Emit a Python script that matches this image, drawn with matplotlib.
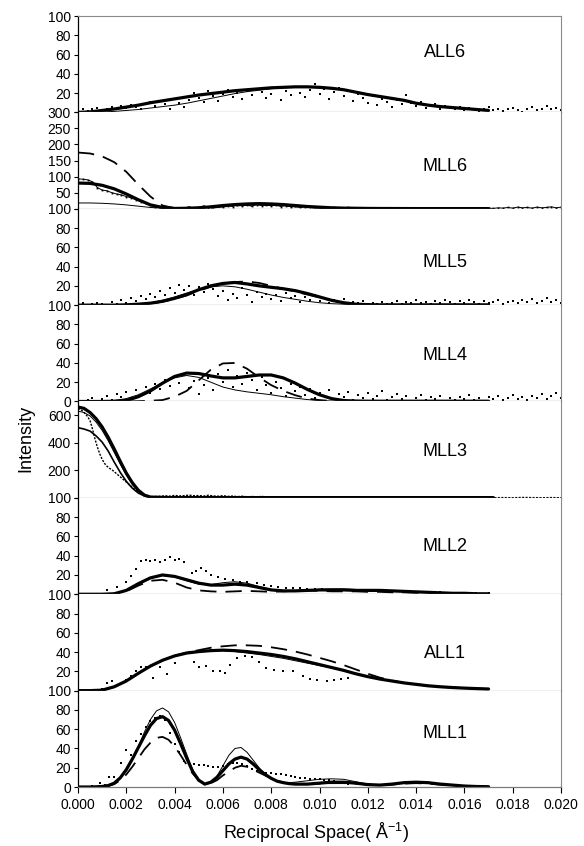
import numpy as np
import matplotlib
matplotlib.use("Agg")
import matplotlib.pyplot as plt

plt.rcParams['font.family'] = ['Liberation Sans', 'DejaVu Sans']
plt.rcParams['mathtext.default'] = 'regular'

# ---------------- data (x in 1e-3 A^-1) ----------------
xg = [0, 0.5, 1, 1.5, 2, 2.5, 3, 3.5, 4, 4.5, 5, 5.5, 6, 6.5, 7, 7.5, 8, 8.5,
      9, 9.5, 10, 10.5, 11, 11.5, 12, 12.5, 13, 13.5, 14, 14.5, 15, 15.5, 16, 16.5, 17]
xd = [0.0, 0.2, 0.4, 0.6, 0.8, 1.0, 1.2, 1.4, 1.6, 1.8, 2.0, 2.2, 2.4, 2.6, 2.8, 3.0, 3.2, 3.4,
      3.6, 3.8, 4.0, 4.2, 4.4, 4.6, 4.8, 5.0, 5.2, 5.4, 5.6, 5.8, 6.0, 6.2, 6.4, 6.6, 6.8, 7.0,
      7.2, 7.4, 7.6, 7.8, 8.0, 8.2, 8.4, 8.6, 8.8, 9.0, 9.2, 9.4, 9.6, 9.8, 10.0, 10.2, 10.4,
      10.6, 10.8, 11.0, 11.2, 11.4, 11.6, 11.8, 12.0, 12.2, 12.4, 12.6, 12.8, 13.0, 13.2, 13.4,
      13.6, 13.8, 14.0, 14.2, 14.4, 14.6, 14.8, 15.0, 15.2, 15.4, 15.6, 15.8, 16.0, 16.2, 16.4,
      16.6, 16.8, 17.0, 17.2, 17.4, 17.6, 17.8, 18.0, 18.2, 18.4, 18.6, 18.8, 19.0, 19.2, 19.4,
      19.6, 19.8, 20.0]

# ALL6
all6_thick = [0, 0.5, 2, 3.5, 5.5, 7.5, 10, 12, 14, 16, 18, 19.5, 21, 22.5, 23.5, 24.5, 25.5, 26,
              26.5, 26.5, 26, 25, 23.5, 21, 18.5, 16.5, 14.5, 12.5, 9.5, 7.5, 6, 5, 4, 3, 2]
all6_thin = [0, 0, 0.5, 1, 2, 3, 4.5, 6, 7.5, 9.5, 12, 14.5, 17, 19.5, 21.5, 23, 24.5, 25.5,
             26, 26, 25.5, 24.5, 23, 20.5, 18, 16, 14, 12, 9, 7, 5.5, 4.5, 3.5, 2.5, 1.5]
all6_data = [2, 3, 1, 4, 5, 2, 3, 6, 4, 7, 5, 8, 6, 3, 9, 11, 7, 12, 9, 4, 14, 10, 6, 13, 20, 15,
             11, 22, 17, 12, 19, 23, 16, 20, 14, 22, 18, 24, 21, 15, 19, 25, 13, 22, 18, 26, 20,
             16, 23, 29, 19, 24, 14, 21, 25, 17, 22, 12, 19, 15, 10, 17, 8, 14, 11, 6, 13, 9, 18,
             10, 7, 11, 5, 8, 9, 4, 7, 5, 3, 6, 2, 5, 4, 1, 3, 6, 2, 4, 1, 3, 5, 2, 0.5, 3, 6, 2,
             4, 7, 3, 5, 2]

# MLL6
mll6_dash = [175, 172, 163, 145, 115, 75, 38, 10, 2, 0.5, 1, 3, 7, 10, 12, 13, 12, 10, 7, 5, 3,
             2, 1, 0.5, 0.3, 0.3, 0.3, 0.3, 0.3, 0.3, 0.3, 0.3, 0.3, 0.3, 0.3]
mll6_thick = [80, 79, 73, 62, 46, 28, 12, 4, 1, 1.5, 3, 6, 10, 13, 15, 16, 15, 13, 10, 7, 5, 3,
              2, 1.5, 1, 0.8, 0.7, 0.6, 0.5, 0.5, 0.5, 0.5, 0.5, 0.5, 0.5]
mll6_thin = [18, 18, 17, 15, 12, 8, 4, 2, 1, 1.5, 2, 5, 8, 10, 12, 12.5, 12, 10, 8, 6, 4, 3, 2,
             1.5, 1, 1, 1, 1, 1, 1, 1, 1, 1, 1, 1]
mll6_data = [93, 92, 90, 84, 66, 58, 56, 50, 46, 43, 38, 34, 28, 22, 17, 11, 7, 4, 2, 1, 2, 1, 3,
             6, 2, 4, 9, 3, 5, 8, 6, 10, 7, 12, 9, 11, 8, 13, 10, 12, 9, 11, 7, 10, 6, 8, 5, 7, 4,
             6, 3, 5, 2, 4, 3, 2, 4, 1, 3, 2, 1, 3, 2, 1, 2, 1, 3, 1, 2, 1, 2, 1, 3, 1, 2, 1, 2,
             1, 3, 1, 2, 1, 2, 1, 3, 2, 1, 3, 2, 4, 2, 5, 3, 4, 2, 5, 3, 4, 6, 3, 5]

# MLL5
mll5_thick = [0, 0, 0, 0, 0.3, 1, 2, 4, 7, 11, 16, 20, 22.5, 23.5, 22, 20, 18.5, 17, 15, 12,
              8.5, 5, 2.5, 1, 0.5, 0.3, 0.3, 0.3, 0.3, 0.3, 0.3, 0.3, 0.3, 0.3, 0.3]
mll5_dash = [0, 0, 0, 0, 0, 0.5, 1.5, 3.5, 6.5, 10, 15, 19, 22, 24, 24.5, 23, 20, 17, 14, 11, 8,
             5, 2.5, 1, 0.3, 0.3, 0.3, 0.3, 0.3, 0.3, 0.3, 0.3, 0.3, 0.3, 0.3]
mll5_thin = [0, 0, 0, 0, 0, 1, 2.5, 5, 8.5, 12.5, 16, 19, 20, 19, 16.5, 13.5, 10.5, 8, 6, 4, 2.5,
             1.5, 1, 0.5, 0.5, 0.5, 0.5, 0.5, 0.5, 0.5, 0.5, 0.5, 0.5, 0.5, 0.5]
mll5_data = [1, 2, 0.5, 1, 2, 1, 0.5, 3, 1, 5, 2, 7, 4, 9, 6, 12, 8, 15, 10, 18, 13, 21, 16, 20,
             11, 19, 14, 22, 17, 9, 15, 5, 12, 7, 18, 10, 3, 14, 8, 12, 6, 10, 4, 13, 7, 9, 3, 8,
             5, 11, 4, 7, 2, 5, 3, 6, 1, 3, 2, 4, 1, 2, 1, 3, 1, 2, 4, 1, 3, 2, 5, 2, 3, 1, 4, 2,
             5, 3, 1, 4, 2, 5, 3, 1, 4, 2, 3, 5, 1, 3, 4, 2, 5, 3, 6, 2, 4, 7, 3, 5, 2]

# MLL4
mll4_thick = [0, 0, 0, 0.3, 1, 5, 11, 19, 26, 29.5, 29, 26.5, 24.5, 24.5, 26, 27.5, 27.5, 24.5,
              19, 12.5, 7, 3, 1, 0.5, 0.3, 0.3, 0.3, 0.3, 0.3, 0.3, 0.3, 0.3, 0.3, 0.3, 0.3]
mll4_thin = [0, 0, 0.3, 1, 3, 7, 13, 19.5, 24.5, 27, 25, 20, 15, 12, 10, 8.5, 7, 5, 3.5, 2, 1,
             0.5, 0.3, 0.3, 0.3, 0.3, 0.3, 0.3, 0.3, 0.3, 0.3, 0.3, 0.3, 0.3, 0.3]
mll4_dash = [0, 0, 0, 0, 0, 0.3, 0.8, 1.5, 5, 11, 22, 33, 39.5, 40, 34, 25, 17, 11, 6.5, 3, 1.5,
             0.5, 0.3, 0.3, 0.3, 0.3, 0.3, 0.3, 0.3, 0.3, 0.3, 0.3, 0.3, 0.3, 0.3]
mll4_data = [1, 0.5, 2, 4, 1, 3, 6, 2, 8, 5, 10, 4, 12, 7, 15, 9, 18, 13, 22, 16, 25, 19, 28, 14,
             21, 8, 17, 24, 12, 29, 20, 33, 15, 26, 18, 30, 22, 12, 25, 17, 9, 20, 14, 6, 18, 11,
             15, 7, 13, 4, 9, 6, 12, 3, 8, 5, 10, 2, 7, 4, 9, 3, 6, 11, 2, 5, 8, 3, 6, 1, 4, 7, 2,
             5, 3, 6, 1, 4, 2, 5, 3, 7, 2, 4, 1, 5, 3, 6, 2, 4, 7, 3, 5, 2, 6, 4, 8, 3, 6, 9, 4]

# MLL3
x3 = [0, 0.25, 0.5, 0.75, 1, 1.25, 1.5, 1.75, 2, 2.25, 2.5, 2.75, 3, 3.5, 4, 5, 6, 8, 10, 12,
      14, 16, 17.2]
mll3_thick = [660, 650, 620, 575, 515, 440, 355, 265, 180, 110, 55, 20, 6, 3, 2, 2, 2, 2, 2, 2,
              2, 2, 2]
mll3_thin = [630, 620, 595, 550, 490, 415, 330, 245, 165, 98, 48, 17, 5, 2, 2, 2, 2, 2, 2, 2, 2,
             2, 2]
mll3_med = [510, 500, 485, 450, 405, 340, 260, 185, 120, 70, 35, 14, 4, 2, 2, 2, 2, 2, 2, 2, 2,
            2, 2]
x3d = [0.0, 0.1, 0.2, 0.3, 0.4, 0.5, 0.6, 0.7, 0.8, 0.9, 1.0, 1.1, 1.2, 1.3, 1.4, 1.5, 1.6, 1.7,
       1.8, 1.9, 2.0, 2.1, 2.2, 2.3, 2.4, 2.5, 2.6, 2.7, 2.8, 2.9, 3.0, 3.2, 3.4, 3.6, 3.8, 4.0,
       4.2, 4.4, 4.6, 4.8, 5.0, 5.2, 5.4, 5.6, 5.8, 6.0, 6.2, 6.4, 6.6, 6.8, 7.0, 7.2, 7.4, 7.6,
       7.8, 8.0, 8.2, 8.4, 8.6, 8.8, 9.0, 9.2, 9.4, 9.6, 9.8, 10.0, 10.4, 10.8, 11.2, 11.6, 12.0,
       12.4, 12.8, 13.2, 13.6, 14.0, 14.4, 14.8, 15.2, 15.6, 16.0, 16.4, 16.8, 17.2, 17.6, 18.0,
       18.4, 18.8, 19.2, 19.6, 20.0]
mll3_data = [650, 640, 630, 610, 590, 560, 500, 430, 370, 320, 280, 250, 230, 215, 205, 190, 175,
             160, 145, 130, 115, 100, 85, 70, 55, 42, 30, 20, 14, 10, 8, 10, 12, 15, 12, 18, 14,
             16, 20, 15, 17, 13, 19, 14, 12, 16, 11, 13, 9, 12, 8, 10, 7, 11, 6, 9, 5, 8, 4, 7, 5,
             3, 6, 4, 2, 5, 3, 2, 4, 1, 3, 2, 1, 3, 2, 1, 3, 2, 1, 2, 3, 1, 2, 1, 2, 1, 3, 2, 1,
             2, 1]

# MLL2
mll2_thick = [0, 0, 0, 0.5, 4, 11, 17, 20, 18.5, 15, 11.5, 9.5, 9.5, 10.5, 9.5, 7, 4.5, 3.5, 3.5,
              4, 4.5, 4.5, 4.5, 4, 4, 4, 3.5, 3, 2.5, 2, 1.5, 1, 1, 0.5, 0.5]
mll2_thin = [0, 0, 0, 0.5, 3.5, 10, 16.5, 19.5, 18, 14, 10.5, 10, 12, 13, 11.5, 8, 5, 3.5, 3.5,
             4.5, 5, 5.5, 5.5, 5, 4, 3.5, 3.5, 3, 2.5, 2, 1.5, 1, 0.8, 0.5, 0.5]
mll2_dash = [0, 0, 0, 0.5, 3, 9, 14, 15, 12, 7, 4, 3, 2.5, 3, 3.5, 3, 2.5, 3, 3.5, 4, 3.5, 3, 3,
             3, 2.5, 2.5, 2, 2, 1.5, 1.5, 1, 0.8, 0.5, 0.3, 0.3]
x2d = [1.2, 1.6, 2.0, 2.2, 2.4, 2.6, 2.8, 3.0, 3.2, 3.4, 3.6, 3.8, 4.0, 4.2, 4.4, 4.7, 4.9, 5.1,
       5.3, 5.5, 5.8, 6.1, 6.4, 6.7, 7.0, 7.4, 7.7, 8.0, 8.3, 8.6, 8.9, 9.2, 9.5, 9.8, 10.1, 10.4,
       10.7, 11.0, 11.5, 12.0, 12.5, 13.0, 13.5, 14.0, 14.5, 15.0, 15.5, 16.0, 16.5, 17.0]
mll2_data = [4, 8, 13, 19, 26, 35, 36, 35, 36, 33, 36, 39, 36, 37, 33, 22, 24, 27, 24, 20, 18, 16,
             15, 13, 13, 12, 10, 9, 8, 7, 6.5, 6, 5.5, 5, 5, 4.5, 4.5, 4, 4, 3.5, 3.5, 3, 3, 2.5,
             2, 2, 1.5, 1.5, 1, 1]

# ALL1
all1_thick = [0, 0, 0.5, 4, 10, 18, 25.5, 31.5, 36, 39, 40.5, 41.5, 42, 41.5, 40.5, 39, 37.5,
              35.5, 33, 30, 27, 24, 21, 17.5, 14.5, 12, 10, 8, 6.5, 5, 4, 3.2, 2.6, 2.1, 1.7]
all1_thin = [0, 0, 0.5, 4, 10, 18, 25.5, 31.5, 36, 39, 40.5, 41.5, 41.5, 40.5, 39, 37.5, 35.5,
             33.5, 31, 28.5, 26, 23.5, 20.5, 17.5, 14.5, 12, 10, 8, 6.5, 5, 4, 3.2, 2.6, 2.1, 1.7]
all1_dash = [0, 0, 0.5, 4, 10, 18, 25.5, 31.5, 36, 39.5, 42, 44.5, 46, 47, 47, 46.5, 45, 43,
             40.5, 37.5, 34, 30.5, 26.5, 22, 17.5, 13.5, 10.5, 8, 6.5, 5, 4, 3.2, 2.6, 2.1, 1.7]
x1d = [1.0, 1.2, 1.4, 1.6, 2.0, 2.2, 2.4, 2.6, 2.8, 3.1, 3.4, 3.7, 4.0, 4.3, 4.6, 4.8, 5.0, 5.3,
       5.6, 5.9, 6.1, 6.3, 6.6, 6.9, 7.2, 7.5, 7.8, 8.1, 8.5, 8.9, 9.3, 9.6, 9.9, 10.3, 10.6,
       10.9, 11.2]
all1_data = [2, 8, 10, 6, 11, 15, 20, 24, 25, 13, 24, 17, 29, 38, 40, 30, 24, 26, 20.5, 20, 18,
             27, 34, 36, 35, 30, 23, 21.5, 20.5, 20, 15, 12.5, 11, 10, 11, 12, 13]

# MLL1
xm1 = [0, 0.25, 0.5, 0.75, 1, 1.25, 1.5, 1.75, 2, 2.25, 2.5, 2.75, 3, 3.25, 3.5, 3.75, 4, 4.25,
       4.5, 4.75, 5, 5.25, 5.5, 5.75, 6, 6.25, 6.5, 6.75, 7, 7.25, 7.5, 7.75, 8, 8.25, 8.5, 8.75,
       9, 9.5, 10, 10.5, 11, 11.5, 12, 12.5, 13, 13.5, 14, 14.5, 15, 15.5, 16, 16.5, 17]
mll1_thin = [0, 0, 0, 0.2, 0.5, 1.5, 4, 9, 17, 28, 42, 57, 70, 79, 82, 78, 67, 51, 34, 18, 7,
             2.5, 4, 11, 22, 33, 40, 41, 36, 28, 20, 13, 8.5, 5.5, 4.5, 4.5, 5, 6.5, 8, 8.5, 8,
             5.5, 3, 2, 2.5, 4, 5, 4.5, 3, 1.5, 1, 0.5, 0.3]
mll1_thick = [0, 0, 0, 0.2, 0.5, 1.5, 4, 9.5, 18, 29, 41, 53, 64, 71, 73, 69, 59, 45, 30, 16, 7,
              3, 5, 10, 17, 24, 29, 31, 29, 24, 18, 13, 9, 6, 4.5, 3.5, 3, 3, 4, 5, 5, 4, 2.5, 2,
              3, 4.5, 5, 4.5, 3, 2, 1, 0.5, 0.3]
mll1_dash = [0, 0, 0, 0.2, 0.5, 1, 3, 7, 13, 21, 30, 39, 46, 51, 52, 49, 42, 33, 23, 14, 7, 3.5,
             4, 7, 12, 16, 20, 22, 21, 18, 15, 12, 9, 6.5, 4.5, 3.5, 3, 3, 3.5, 4, 4, 3.5, 2.5,
             2, 2.5, 3.5, 4, 3.5, 2.5, 1.5, 1, 0.5, 0.3]
xm1d = [0.0, 0.3, 0.6, 0.9, 1.1, 1.3, 1.5, 1.8, 2.0, 2.2, 2.4, 2.6, 2.8, 3.0, 3.2, 3.4, 3.6, 3.8,
        4.0, 4.2, 4.4, 4.6, 4.8, 5.0, 5.2, 5.4, 5.6, 5.8, 6.0, 6.2, 6.4, 6.6, 6.8, 7.0, 7.2, 7.4,
        7.6, 7.8, 8.0, 8.2, 8.4, 8.6, 8.8, 9.0, 9.2, 9.4, 9.6, 9.8, 10.0, 10.2, 10.4, 10.6, 10.8,
        11.0, 11.2]
mll1_data = [0.5, 0.5, 1, 4, 2.5, 10, 10, 25, 38, 33, 48, 55, 62, 68, 72, 74, 70, 56, 45, 36, 27,
             24, 23.5, 23, 22.5, 22, 21, 21, 22, 24, 25, 25, 24, 22, 19, 17, 16, 15, 14.5, 14, 13,
             12, 11, 10, 9.5, 9, 8.5, 8.5, 8, 7.5, 7, 6, 5, 4, 3]

panel_names = ['ALL6', 'MLL6', 'MLL5', 'MLL4', 'MLL3', 'MLL2', 'ALL1', 'MLL1']
panel_ymax = [100, 300, 100, 100, 700, 100, 100, 100]
panel_ticks = [[0, 20, 40, 60, 80, 100], [0, 50, 100, 150, 200, 250, 300],
               [0, 20, 40, 60, 80, 100], [0, 20, 40, 60, 80, 100],
               [0, 200, 400, 600], [0, 20, 40, 60, 80, 100],
               [0, 20, 40, 60, 80, 100], [0, 20, 40, 60, 80, 100]]
panel_show_zero = [False, False, False, True, False, False, False, True]
label_pos_y = [0.62, 0.44, 0.44, 0.48, 0.48, 0.50, 0.39, 0.55]
x_ticks = [0.000, 0.002, 0.004, 0.006, 0.008, 0.010, 0.012, 0.014, 0.016, 0.018, 0.020]

# ---------------- plotting ----------------
fig = plt.figure(figsize=(5.84, 8.46), dpi=100)
left, right, top, bottom = 78 / 584, 561 / 584, 1 - 16 / 846, 1 - 787 / 846
h = (top - bottom) / 8
axes = [fig.add_axes([left, top - (i + 1) * h, right - left, h]) for i in range(8)]

K = 1e-3
def s(xs):
    return np.asarray(xs) * K

thick = dict(color='black', lw=2.3, solid_capstyle='round')
thin = dict(color='black', lw=0.7)
med = dict(color='black', lw=1.2)
dash = dict(color='black', lw=1.3, dashes=(9, 5))
dots = dict(color='black', ls='none', marker='s', ms=1.6, mew=0)

a = axes[0]
a.plot(s(xd), all6_data, **dots)
a.plot(s(xg), all6_thin, **thin)
a.plot(s(xg), all6_thick, **thick)

a = axes[1]
a.plot(s(xd), mll6_data, color='black', lw=0.7, marker='s', ms=1.3, mew=0)
a.plot(s(xg), mll6_thin, **thin)
a.plot(s(xg), mll6_dash, **dash)
a.plot(s(xg), mll6_thick, **thick)

a = axes[2]
a.plot(s(xd), mll5_data, **dots)
a.plot(s(xg), mll5_thin, **thin)
a.plot(s(xg), mll5_dash, **dash)
a.plot(s(xg), mll5_thick, **thick)

a = axes[3]
a.plot(s(xd), mll4_data, **dots)
a.plot(s(xg), mll4_thin, **thin)
a.plot(s(xg), mll4_dash, **dash)
a.plot(s(xg), mll4_thick, **thick)

a = axes[4]
a.plot(s(x3d), mll3_data, color='black', lw=1.0, ls=(0, (1.5, 1)))
a.plot(s(x3), mll3_thin, **thin)
a.plot(s(x3), mll3_med, **med)
a.plot(s(x3), mll3_thick, **thick)

a = axes[5]
a.plot(s(x2d), mll2_data, **dict(dots, ms=1.9))
a.plot(s(xg), mll2_thin, **thin)
a.plot(s(xg), mll2_dash, **dash)
a.plot(s(xg), mll2_thick, **thick)

a = axes[6]
a.plot(s(x1d), all1_data, **dict(dots, ms=1.9))
a.plot(s(xg), all1_thin, **thin)
a.plot(s(xg), all1_dash, **dash)
a.plot(s(xg), all1_thick, **thick)

a = axes[7]
a.plot(s(xm1d), mll1_data, **dict(dots, ms=1.9))
a.plot(s(xm1), mll1_thin, **thin)
a.plot(s(xm1), mll1_dash, **dash)
a.plot(s(xm1), mll1_thick, **thick)

for i, ax in enumerate(axes):
    ax.set_xlim(0, 0.020)
    ax.set_ylim(0, panel_ymax[i])
    ax.set_yticks(panel_ticks[i])
    labs = [str(t) for t in panel_ticks[i]]
    if not panel_show_zero[i]:
        labs[0] = ''
    ax.set_yticklabels(labs)
    ax.tick_params(axis='y', direction='out', length=3, width=0.8, pad=2,
                   labelsize=10, colors='black')
    ax.spines['left'].set_color('black')
    ax.spines['left'].set_linewidth(0.9)
    ax.spines['right'].set_color('#8a8a8a')
    ax.spines['right'].set_linewidth(0.8)
    ax.spines['bottom'].set_color('#7a7a7a')
    ax.spines['bottom'].set_linewidth(0.9)
    ax.spines['top'].set_visible(i == 0)
    ax.spines['top'].set_color('#8a8a8a')
    ax.spines['top'].set_linewidth(0.8)
    ax.set_xticks(x_ticks)
    if i < 7:
        ax.tick_params(axis='x', length=0, labelbottom=False)
    else:
        ax.set_xticklabels(['%.3f' % t for t in x_ticks])
        ax.tick_params(axis='x', direction='out', length=4, width=0.8, pad=4,
                       labelsize=10, colors='black')
    ax.text(0.76, label_pos_y[i], panel_names[i], transform=ax.transAxes,
            ha='center', va='center', fontsize=13)
    for t in ax.get_yticklabels():
        t.set_clip_on(False)

fig.text(0.044, 0.482, 'Intensity', rotation=90, ha='center', va='center', fontsize=13)
fig.text(0.541, 0.015, 'Reciprocal Space( Å$^{-1}$)', ha='center', va='center', fontsize=13)

fig.savefig('out.png', dpi=100)
